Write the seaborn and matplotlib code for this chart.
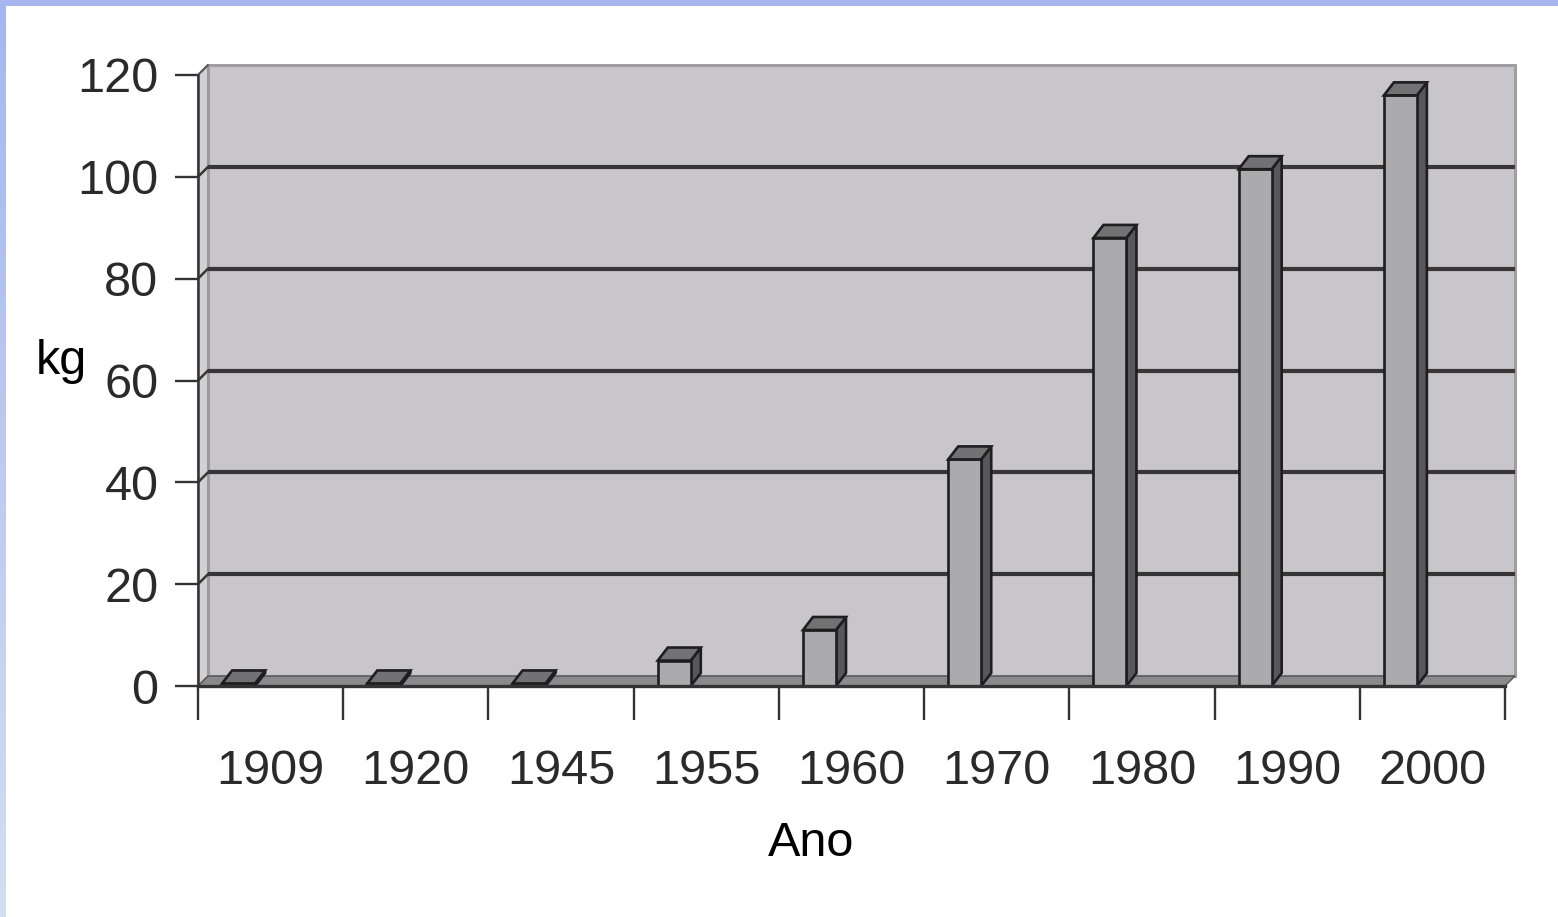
import numpy as np
import matplotlib
matplotlib.use("Agg")
import matplotlib.pyplot as plt
from matplotlib.patches import Polygon, Rectangle
import seaborn as sns

# Per-capita consumption (kg) by year
anos = ["1909", "1920", "1945", "1955", "1960", "1970", "1980", "1990", "2000"]
kg = [0.5, 0.5, 0.5, 5, 11, 44.5, 88, 101.5, 116]
y_ticks = [0, 20, 40, 60, 80, 100, 120]

sns.set_style("white")
plt.rcParams["font.family"] = ["Liberation Sans Narrow", "Liberation Sans", "DejaVu Sans"]

W, H, DPI = 1558, 917, 100
fig = plt.figure(figsize=(W / DPI, H / DPI), dpi=DPI)
fig.patch.set_facecolor("white")

# slide-style blue frame on the top and left edges
fig.patches.append(Rectangle((0, 1 - 6 / H), 1, 6 / H, transform=fig.transFigure,
                             facecolor="#a7b6ee", edgecolor="none", zorder=0))
band = fig.add_axes([0, 0, 6 / W, 1])
grad = np.linspace(0, 1, 256).reshape(-1, 1)
band.imshow(grad, aspect="auto", cmap=matplotlib.colors.LinearSegmentedColormap.from_list(
    "edge", ["#a7b6ee", "#d3def2"]), extent=(0, 1, 0, 1))
band.set_axis_off()

# front plane of the plot area
x0, y0, x1, y1 = 198, 686, 1505, 75
ax = fig.add_axes([x0 / W, (H - y0) / H, (x1 - x0) / W, (y0 - y1) / H])
ax.set_xlim(-0.5, 8.5)
ax.set_ylim(0, 120)
ax.patch.set_visible(False)

px_x = (x1 - x0) / 9.0        # pixels per category
px_y = (y0 - y1) / 120.0      # pixels per kg
wx, wy = 10 / px_x, 10 / px_y  # depth of the back wall
bx, by = 10 / px_x, 13 / px_y  # depth of each column

# back wall, side wall and floor
ax.add_patch(Rectangle((-0.5 + wx, wy), 9, 120, facecolor="#c9c6cb",
                       edgecolor="#a09ea2", lw=2.2, zorder=0.5, clip_on=False))
ax.add_patch(Polygon([(-0.5, 0), (-0.5 + wx, wy), (-0.5 + wx, 120 + wy), (-0.5, 120)],
                     closed=True, facecolor="#d2d0d4", edgecolor="#9a989c", lw=1.5,
                     zorder=0.6, clip_on=False))
ax.add_patch(Polygon([(-0.5, 0), (8.5, 0), (8.5 + wx, wy), (-0.5 + wx, wy)],
                     closed=True, facecolor="#8a898c", edgecolor="#555555", lw=1,
                     zorder=0.7, clip_on=False))
for v in y_ticks[1:-1]:
    ax.plot([-0.5 + wx, 8.5 + wx], [v + wy, v + wy], color="#363636", lw=3.0,
            zorder=1, clip_on=False, solid_capstyle="butt")
    ax.plot([-0.5, -0.5 + wx], [v, v + wy], color="#363636", lw=1.8,
            zorder=1, clip_on=False)
ax.plot([-0.5, -0.5 + wx], [120, 120 + wy], color="#555555", lw=1.4, zorder=1, clip_on=False)

# columns
sns.barplot(x=anos, y=kg, ax=ax, width=33 / px_x, color="#abaaad",
            edgecolor="#1e1e1e", linewidth=1.9, saturation=1, zorder=3)
shift = 32 / px_x
for p in ax.patches:
    if not isinstance(p, Rectangle) or p.get_zorder() != 3:
        continue
    p.set_x(p.get_x() - shift)
    px, pw, ph = p.get_x(), p.get_width(), p.get_height()
    side = Polygon([(px + pw, 0), (px + pw + bx, by), (px + pw + bx, ph + by), (px + pw, ph)],
                   closed=True, facecolor="#58575a", edgecolor="#1e1e1e", lw=1.9, zorder=2.9)
    top = Polygon([(px, ph), (px + pw, ph), (px + pw + bx, ph + by), (px + bx, ph + by)],
                  closed=True, facecolor="#727174", edgecolor="#1e1e1e", lw=1.9, zorder=3.1)
    ax.add_patch(side)
    ax.add_patch(top)

# axes lines, ticks and labels
for s in ["top", "right"]:
    ax.spines[s].set_visible(False)
ax.spines["left"].set_color("#333333")
ax.spines["left"].set_linewidth(1.8)
ax.spines["bottom"].set_color("#333333")
ax.spines["bottom"].set_linewidth(2.4)
ax.spines["left"].set_zorder(4)
ax.spines["bottom"].set_zorder(4)

ax.set_yticks(y_ticks)
ax.set_yticklabels([str(v) for v in y_ticks])
ax.tick_params(axis="y", left=True, length=16.5, width=1.7, color="#333333",
               pad=12, labelsize=35, labelcolor="#2a2a2a")
ax.set_xticks(range(len(anos)))
ax.set_xticklabels(anos)
ax.set_xticks(np.arange(-0.5, 9.0, 1.0), minor=True)
ax.tick_params(axis="x", which="major", bottom=True, length=0, pad=45,
               labelsize=35, labelcolor="#2a2a2a")
ax.tick_params(axis="x", which="minor", bottom=True, length=24.5, width=1.7,
               color="#333333")
ax.set_xlabel("")
ax.set_ylabel("")
ax.grid(False)

fig.text(61 / W, 1 - 362 / H, "kg", ha="center", va="center", fontsize=35, color="black",
         family=["Liberation Sans", "DejaVu Sans"])
fig.text(811 / W, 1 - 843 / H, "Ano", ha="center", va="center", fontsize=35, color="black")

fig.savefig("out.png", dpi=DPI, facecolor="white")
